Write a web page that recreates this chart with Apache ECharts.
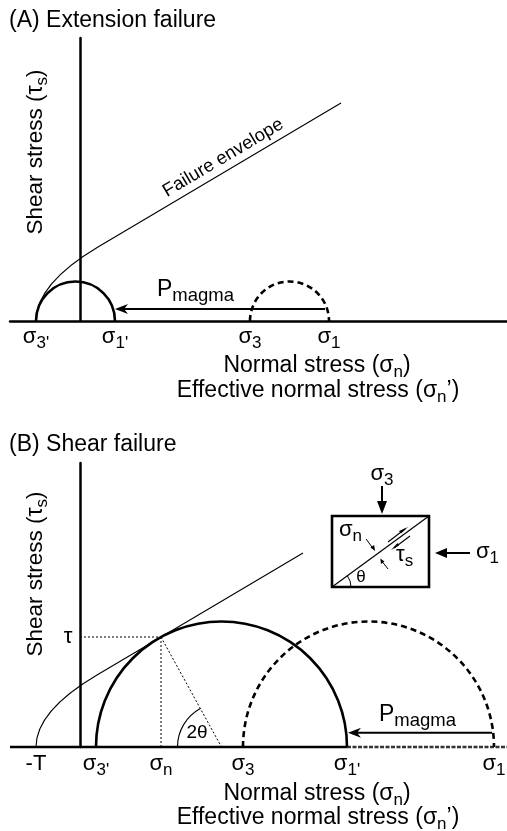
<!DOCTYPE html>
<html><head><meta charset="utf-8">
<script src="https://cdn.jsdelivr.net/npm/echarts@6/dist/echarts.min.js"></script>
<style>html,body{margin:0;padding:0;background:#fff}#c{width:507px;height:831px}</style>
</head><body><div id="c"></div>
<script>
const FONT = 'Liberation Sans, Arial, Helvetica, sans-serif';

// ---------- Panel A : extension failure ----------
const xRange = [-7, 42.7];
const yRangeA = [0, 28.3];
const circlesA = [[-4.4, 3.5], [17.0, 24.9]];          // [sigma3, sigma1]
const circleDashA = [0, 1];
const envelopeA = [[-4.4, 0], [-4.4, 3.7], [1.8, 7.4], [26.1, 21.8]]; // start, bezier ctrl, join, end
const magmaArrowA = [[24.5, 3.5, 1.2]];                 // [from x, to x, y]
const ticksA = [-4.4, 3.5, 17.0, 24.9];
const tickLabelsA = ["{m|σ}{s|3'}", "{m|σ}{s|1'}", "{m|σ}{s|3}", "{m|σ}{s|1}"];

// ---------- Panel B : shear failure ----------
const yRangeB = [0, 28.4];
const circlesB = [[1.6, 26.7], [16.3, 41.4]];
const circleDashB = [0, 1];
const envelopeB = [[-4.4, 0], [-4.4, 3.6], [1.7, 7.2], [22.3, 19.4]];
const tangentB = [8.1, 11.0];                            // [sigma_n, tau]
const magmaArrowB = [[41.2, 26.8, 1.43]];
const ticksB = [-4.4, 1.6, 8.1, 16.3, 26.7, 41.4];
const tickLabelsB = ["{m|-T}", "{m|σ}{s|3'}", "{m|σ}{s|n}", "{m|σ}{s|3}", "{m|σ}{s|1'}", "{m|σ}{s|1}"];
const baselineB = [[-7, 26.7, 0], [26.7, 42.7, 1]];      // axis segments [x0, x1, dashed]

const richTick = {
  m: { fontSize: 22, fontFamily: FONT, fill: '#000' },
  s: { fontSize: 17, fontFamily: FONT, fill: '#000', padding: [12, 0, 0, 0] }
};
const richBig = {
  m: { fontSize: 23, fontFamily: FONT, fill: '#000' },
  s: { fontSize: 17, fontFamily: FONT, fill: '#000', padding: [12, 0, 0, 0] }
};
const richMagma = {
  m: { fontSize: 23, fontFamily: FONT, fill: '#000' },
  s: { fontSize: 18.5, fontFamily: FONT, fill: '#000', padding: [12, 0, 0, 0] }
};
const smallRich = {
  m: { fontSize: 22, fontFamily: FONT, fill: '#000' },
  s: { fontSize: 17, fontFamily: FONT, fill: '#000', padding: [12, 0, 0, 0] }
};

function circleSeries(gi, circles, dash) {
  return {
    type: 'custom', xAxisIndex: gi, yAxisIndex: gi, z: 5,
    data: circles.map((c, i) => [c[0], c[1], dash[i]]),
    renderItem: (params, api) => {
      const a = api.coord([api.value(0), 0]);
      const b = api.coord([api.value(1), 0]);
      return {
        type: 'arc',
        shape: { cx: (a[0] + b[0]) / 2, cy: a[1], r: Math.abs(b[0] - a[0]) / 2,
                 startAngle: Math.PI, endAngle: 2 * Math.PI, clockwise: true },
        style: { stroke: '#000', fill: 'none', lineWidth: 2.6,
                 lineDash: api.value(2) ? [6, 4] : null }
      };
    }
  };
}

function envelopeSeries(gi, env) {
  return {
    type: 'custom', xAxisIndex: gi, yAxisIndex: gi, z: 6,
    data: [[env[0][0], env[0][1]]],
    renderItem: (params, api) => {
      const p = env.map(pt => api.coord(pt));
      const d = `M${p[0][0]} ${p[0][1]} Q${p[1][0]} ${p[1][1]} ${p[2][0]} ${p[2][1]} L${p[3][0]} ${p[3][1]}`;
      return { type: 'path', shape: { pathData: d },
               style: { stroke: '#000', fill: 'none', lineWidth: 1.1 } };
    }
  };
}

function arrowSeries(gi, arr) {
  return {
    type: 'custom', xAxisIndex: gi, yAxisIndex: gi, z: 6,
    data: arr,
    renderItem: (params, api) => {
      const a = api.coord([api.value(0), api.value(2)]);
      const b = api.coord([api.value(1), api.value(2)]);
      const L = 13, h = 5;
      return {
        type: 'group', children: [
          { type: 'line', shape: { x1: a[0], y1: a[1], x2: b[0] + 8, y2: b[1] },
            style: { stroke: '#000', lineWidth: 2 } },
          { type: 'polygon', shape: { points: [[b[0], b[1]], [b[0] + L, b[1] - h], [b[0] + L * 0.7, b[1]], [b[0] + L, b[1] + h]] },
            style: { fill: '#000' } }
        ]
      };
    }
  };
}

function tickSeries(gi, ticks, labels, dy) {
  return {
    type: 'custom', xAxisIndex: gi, yAxisIndex: gi, z: 6,
    data: ticks.map((v, i) => [v, i]),
    renderItem: (params, api) => {
      const p = api.coord([api.value(0), 0]);
      return {
        type: 'text', x: p[0], y: p[1] + dy,
        style: { text: labels[api.value(1)], rich: richTick, fontSize: 22, fontFamily: FONT,
                 fill: '#000', align: 'center', verticalAlign: 'middle' }
      };
    }
  };
}

function baselineSeries(gi, segs) {
  return {
    type: 'custom', xAxisIndex: gi, yAxisIndex: gi, z: 4,
    data: segs,
    renderItem: (params, api) => {
      const a = api.coord([api.value(0), 0]);
      const b = api.coord([api.value(1), 0]);
      return { type: 'line', shape: { x1: a[0], y1: a[1], x2: b[0], y2: b[1] },
               style: { stroke: api.value(2) ? '#333' : '#000', lineWidth: 2.5,
                        lineDash: api.value(2) ? [4, 1.5] : null } };
    }
  };
}

function constructionSeries(gi, tp, circ) {
  return {
    type: 'custom', xAxisIndex: gi, yAxisIndex: gi, z: 5,
    data: [tp],
    renderItem: (params, api) => {
      const t = api.coord([api.value(0), api.value(1)]);
      const ax = api.coord([0, api.value(1)]);
      const foot = api.coord([api.value(0), 0]);
      const c = api.coord([(circ[0] + circ[1]) / 2, 0]);
      const r = 44;
      const ang = Math.atan2(t[1] - c[1], t[0] - c[0]);
      const dot = { stroke: '#000', lineWidth: 1, lineDash: [2, 2] };
      return {
        type: 'group', children: [
          { type: 'line', shape: { x1: ax[0], y1: ax[1], x2: t[0], y2: t[1] }, style: dot },
          { type: 'line', shape: { x1: t[0], y1: t[1], x2: foot[0], y2: foot[1] }, style: dot },
          { type: 'line', shape: { x1: t[0], y1: t[1], x2: c[0], y2: c[1] }, style: dot },
          { type: 'arc', shape: { cx: c[0], cy: c[1], r: r, startAngle: Math.PI, endAngle: ang + 2 * Math.PI, clockwise: true },
            style: { stroke: '#000', fill: 'none', lineWidth: 1.1 } }
        ]
      };
    }
  };
}

function txt(x, y, text, opts) {
  opts = opts || {};
  return {
    type: 'text', x: x, y: y, rotation: opts.rotation || 0, z: 10,
    style: { text: text, rich: opts.rich || richBig, fontSize: opts.size || 23, fontFamily: FONT,
             fill: '#000', align: opts.align || 'left', verticalAlign: opts.va || 'middle' }
  };
}
function ln(x1, y1, x2, y2, w) {
  return { type: 'line', z: 10, shape: { x1, y1, x2, y2 }, style: { stroke: '#000', lineWidth: w || 1.2 } };
}
function poly(pts) {
  return { type: 'polygon', z: 10, shape: { points: pts }, style: { fill: '#000' } };
}

const graphics = [
  txt(9, 21, '(A) Extension failure'),
  txt(9, 445, '(B) Shear failure'),
  txt(36, 152, 'Shear stress ({m|τ}{s|s})', { rotation: Math.PI / 2, align: 'center', size: 22.5 }),
  txt(36, 574, 'Shear stress ({m|τ}{s|s})', { rotation: Math.PI / 2, align: 'center', size: 22.5 }),
  txt(317, 366, 'Normal stress ({m|σ}{s|n})', { align: 'center' }),
  txt(318, 391, "Effective normal stress ({m|σ}{s|n}{m|’})", { align: 'center' }),
  txt(317, 794, 'Normal stress ({m|σ}{s|n})', { align: 'center' }),
  txt(318, 818, "Effective normal stress ({m|σ}{s|n}{m|’})", { align: 'center' }),
  txt(228, 166, 'Failure envelope', { rotation: Math.atan(0.594), align: 'center', va: 'bottom', size: 18.5,
      rich: { m: { fontSize: 18.5 } } }),
  txt(157, 290, '{m|P}{s|magma}', { rich: richMagma }),
  txt(379, 715, '{m|P}{s|magma}', { rich: richMagma }),
  txt(68, 637, '{m|τ}', { align: 'center', rich: smallRich }),
  txt(197, 733, '2θ', { align: 'center', size: 19 }),
  // inset block
  { type: 'rect', z: 10, shape: { x: 332, y: 516, width: 97, height: 71 },
    style: { stroke: '#000', fill: 'none', lineWidth: 2.6 } },
  ln(332, 587, 429, 516, 1.2),
  ln(382, 486, 382, 503, 2),
  poly([[377, 501], [387, 501], [382, 514]]),
  txt(382, 474, '{m|σ}{s|3}', { align: 'center', rich: smallRich }),
  ln(470, 553, 446, 553, 2),
  poly([[447, 548], [447, 558], [435, 553]]),
  txt(476, 552, '{m|σ}{s|1}', { rich: smallRich }),
  txt(339, 530, '{m|σ}{s|n}', { rich: smallRich }),
  txt(396, 555, '{m|τ}{s|s}', { rich: smallRich }),
  ln(366, 539, 372, 547, 1),
  poly([[370.5, 547.6], [374.2, 545], [375, 551]]),
  ln(388, 569, 382.5, 562, 1),
  poly([[384.5, 561.4], [381, 564], [380.3, 558.5]]),
  ln(388, 542, 405, 529, 1.1),
  poly([[408, 527], [399, 531], [401, 533.5]]),
  ln(410, 536, 394, 548, 1.1),
  poly([[391, 550], [399, 545.5], [397.5, 543]]),
  { type: 'arc', z: 10, shape: { cx: 332, cy: 587, r: 19, startAngle: 0, endAngle: -Math.atan(71 / 97), clockwise: false },
    style: { stroke: '#000', fill: 'none', lineWidth: 1 } },
  txt(361, 577, 'θ', { align: 'center', size: 17 })
];

const axisCommon = {
  type: 'value', axisTick: { show: false }, axisLabel: { show: false }, splitLine: { show: false }
};

const option = {
  backgroundColor: '#fff',
  animation: false,
  grid: [
    { left: 10, right: 0, top: 38, height: 283 },
    { left: 10, right: 0, top: 463, height: 284 }
  ],
  xAxis: [
    Object.assign({ gridIndex: 0, min: xRange[0], max: xRange[1],
      axisLine: { show: true, onZero: true, lineStyle: { color: '#000', width: 2.5 } } }, axisCommon),
    Object.assign({ gridIndex: 1, min: xRange[0], max: xRange[1], axisLine: { show: false } }, axisCommon)
  ],
  yAxis: [
    Object.assign({ gridIndex: 0, min: yRangeA[0], max: yRangeA[1],
      axisLine: { show: true, onZero: true, lineStyle: { color: '#000', width: 2.5 } } }, axisCommon),
    Object.assign({ gridIndex: 1, min: yRangeB[0], max: yRangeB[1],
      axisLine: { show: true, onZero: true, lineStyle: { color: '#000', width: 2.5 } } }, axisCommon)
  ],
  series: [
    circleSeries(0, circlesA, circleDashA),
    envelopeSeries(0, envelopeA),
    arrowSeries(0, magmaArrowA),
    tickSeries(0, ticksA, tickLabelsA, 16),
    baselineSeries(1, baselineB),
    circleSeries(1, circlesB, circleDashB),
    envelopeSeries(1, envelopeB),
    constructionSeries(1, tangentB, circlesB[0]),
    arrowSeries(1, magmaArrowB),
    tickSeries(1, ticksB, tickLabelsB, 17)
  ],
  graphic: { elements: graphics }
};

const chart = echarts.init(document.getElementById('c'), null, { renderer: 'canvas' });
chart.setOption(option);
</script>
</body></html>
